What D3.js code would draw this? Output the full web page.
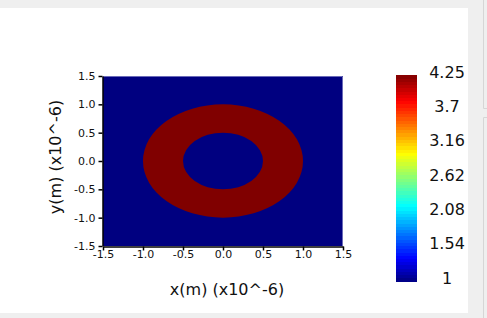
<!DOCTYPE html>
<html>
<head>
<meta charset="utf-8">
<script src="https://cdn.jsdelivr.net/npm/d3@7"></script>
<style>
  body { margin: 0; background: #efefef; }
  svg { display: block; }
  text { font-family: "DejaVu Sans", sans-serif; fill: #111; }
</style>
</head>
<body>
<div id="chart"></div>
<script>
// field values and axes
var xDomain = [-1.5, 1.5];
var yDomain = [-1.5, 1.5];
var axisTicks = [-1.5, -1.0, -0.5, 0.0, 0.5, 1.0, 1.5];
var ringRadii = [0.5, 1.0];      // inner / outer radius (x10^-6 m)
var fieldValues = [1, 4.25];     // outside ring / inside ring
var colorDomain = [1, 4.25];
var colorbarLabels = ["1", "1.54", "2.08", "2.62", "3.16", "3.7", "4.25"];

var W = 487, H = 318;
var svg = d3.select("#chart").append("svg")
    .attr("width", W).attr("height", H);

// window chrome
svg.append("rect").attr("x", 0).attr("y", 8).attr("width", 468).attr("height", 305)
    .attr("fill", "#fff");
svg.append("path")
    .attr("d", "M483.5,0V108.5H487M487,117.5H483.5V318")
    .attr("fill", "none").attr("stroke", "#d6d6d6");

// ParaView style jet
var jetStops = [
  [0.0, "#000080"], [0.111, "#0000ff"], [0.365, "#00ffff"],
  [0.492, "#80ff80"], [0.619, "#ffff00"], [0.873, "#ff0000"], [1.0, "#800000"]
];
var jet = d3.scaleLinear()
    .domain(jetStops.map(function(d){ return d[0]; }))
    .range(jetStops.map(function(d){ return d[1]; }))
    .interpolate(d3.interpolateRgb);
var color = function(v) {
  return jet((v - colorDomain[0]) / (colorDomain[1] - colorDomain[0]));
};

var x = d3.scaleLinear().domain(xDomain).range([103, 343]);
var y = d3.scaleLinear().domain(yDomain).range([246, 76]);

var g = svg.append("g");

g.append("rect")
    .attr("x", x(xDomain[0])).attr("y", y(yDomain[1]))
    .attr("width", x(xDomain[1]) - x(xDomain[0]))
    .attr("height", y(yDomain[0]) - y(yDomain[1]))
    .attr("fill", color(fieldValues[0]));

// annulus: outer ellipse minus inner ellipse
function ellipse(r) {
  var cx = x(0), cy = y(0), rx = x(r) - x(0), ry = y(0) - y(r);
  return "M" + (cx - rx) + "," + cy +
    "a" + rx + "," + ry + " 0 1,0 " + (2 * rx) + ",0" +
    "a" + rx + "," + ry + " 0 1,0 " + (-2 * rx) + ",0Z";
}
g.append("path")
    .attr("d", ellipse(ringRadii[1]) + ellipse(ringRadii[0]))
    .attr("fill-rule", "evenodd")
    .attr("fill", color(fieldValues[1]));

// faint top/right frame
g.append("path")
    .attr("d", "M" + x(xDomain[0]) + "," + (y(yDomain[1]) + 0.5) + "H" + (x(xDomain[1]) - 0.5) + "V" + y(yDomain[0]))
    .attr("fill", "none").attr("stroke", "#6a6ab8").attr("stroke-width", 1);

var fmt = function(d) { return d3.format(".1f")(d).replace("\u2212", "-"); };

var xAxis = svg.append("g")
    .attr("transform", "translate(0," + (y(yDomain[0]) + 0.5) + ")")
    .call(d3.axisBottom(x).tickValues(axisTicks).tickFormat(fmt)
      .tickSize(4).tickSizeOuter(0).tickPadding(0));
var yAxis = svg.append("g")
    .attr("transform", "translate(" + (x(xDomain[0]) - 0.5) + ",0)")
    .call(d3.axisLeft(y).tickValues(axisTicks).tickFormat(fmt)
      .tickSize(4).tickSizeOuter(0).tickPadding(3));
[xAxis, yAxis].forEach(function(a) {
  a.selectAll("text").style("font-family", "DejaVu Sans, sans-serif")
    .style("font-size", "11px").attr("fill", "#111");
  a.select(".domain").attr("stroke", "#000").attr("stroke-width", 1.5);
  a.selectAll(".tick line").attr("stroke", "#000").attr("stroke-width", 1.5);
});

svg.append("text")
    .attr("x", 227).attr("y", 295)
    .attr("text-anchor", "middle").style("font-size", "16px")
    .text("x(m) (x10^-6)");
svg.append("text")
    .attr("transform", "translate(61,157) rotate(-90)")
    .attr("text-anchor", "middle").style("font-size", "16px")
    .text("y(m) (x10^-6)");

// colorbar
var cb = d3.scaleLinear().domain(colorDomain).range([281, 75]);
var nBands = 64;
var bands = d3.range(nBands).map(function(i) {
  return colorDomain[0] + (colorDomain[1] - colorDomain[0]) * i / nBands;
});
var step = (colorDomain[1] - colorDomain[0]) / nBands;
svg.append("g").selectAll("rect").data(bands).enter().append("rect")
    .attr("x", 396).attr("width", 21)
    .attr("y", function(d) { return cb(d + step); })
    .attr("height", function(d) { return cb(d) - cb(d + step) + 0.5; })
    .attr("fill", function(d) { return color(d + step / 2); })
    .attr("shape-rendering", "crispEdges");

var lab = d3.scaleLinear().domain([0, colorbarLabels.length - 1]).range([278, 72]);
svg.append("g").selectAll("text").data(colorbarLabels).enter().append("text")
    .attr("x", 447)
    .attr("y", function(d, i) { return lab(i); })
    .attr("dy", "0.36em")
    .attr("text-anchor", "middle")
    .style("font-size", "16px")
    .text(function(d) { return d; });
</script>
</body>
</html>
